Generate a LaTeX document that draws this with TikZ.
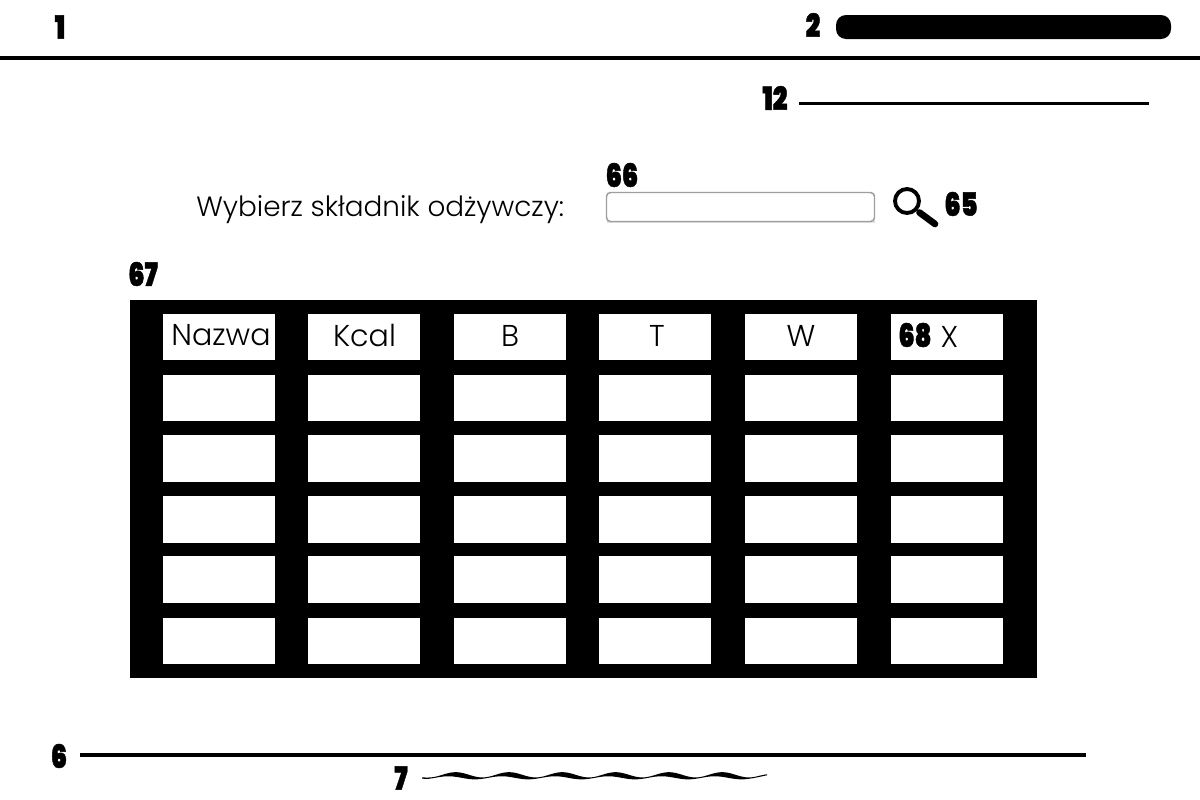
\documentclass[tikz,border=0pt]{standalone}
\usepackage{fontspec}
\setmainfont{Poppins}
\newfontfamily\lightfont{Poppins Light}
\newfontfamily\heavyfont[FakeBold=1.5]{Poppins Black}
\pgfmathdeclarefunction{wc}{1}{\pgfmathparse{776.3-1.9*sin(6.7542*(#1-439.7))}}
\pgfmathdeclarefunction{wt}{1}{\pgfmathparse{0.5+min(1,(#1-421)/12)*min(1,(767-#1)/22)*2.0*(0.5+0.5*cos(6.7542*(#1-461)))}}
\tikzset{
  numlabel/.style={font=\heavyfont\fontsize{24}{24}\selectfont, inner sep=0pt, text=black, xscale=0.8},
  celltext/.style={font=\lightfont\fontsize{22.6}{23}\selectfont, inner sep=0pt, text=black},
}
\begin{document}
\begin{tikzpicture}[x=0.75pt,y=-0.75pt]
\useasboundingbox (0,0) rectangle (1200,800);
\fill[white] (0,0) rectangle (1200,800);
% header
\fill[black] (0,56) rectangle (1200,60);
\fill[black, rounded corners=7.5pt] (836,15) rectangle (1171,39);
\fill[black] (799,101.8) rectangle (1149,105);
\node[numlabel] (n1) at (60,27) {1};
\node[numlabel] (n2) at (813,25) {2};
\node[numlabel] (n12) at (775,98) {12};
% search
\node[anchor=base west, inner sep=0pt, font=\lightfont\fontsize{20.9}{21}\selectfont] (prompt) at (196,216) {Wybierz składnik odżywczy:};
\node[numlabel] (n66) at (622,175) {66};
\fill[black!12] (607,194) rectangle (875,223);
\draw[draw=black!38, fill=white, line width=1.1pt, rounded corners=3pt] (606.5,192.5) rectangle (874.5,221.5);
\draw[black, line width=2.9pt] (907,201) circle (12);
\draw[black, line width=5pt, line cap=round] (919.5,212.5) -- (935,224);
\node[numlabel] (n65) at (961,204) {65};
% table
\node[numlabel] (n67) at (143,274) {67};
\fill[black] (130,300) rectangle (1037,678);
\foreach \x in {163,308,454,599,745,891}{
  \foreach \y/\h in {314/46,375/46,435/47,496/47,556/47,618/46}{
    \fill[white] (\x,\y) rectangle (\x+112,\y+\h);
  }
}
\node[celltext] (h1) at (221,335) {Nazwa};
\node[celltext] (h2) at (364.5,335) {Kcal};
\node[celltext] (h3) at (510,336) {B};
\node[celltext] (h4) at (657,336) {T};
\node[celltext] (h5) at (801,336) {W};
\node[celltext] (h6) at (949.5,337) {X};
\node[numlabel] (n68) at (915,335) {68};
% footer
\fill[black] (80,753) rectangle (1086,757);
\node[numlabel] (n6) at (59,756) {6};
\node[numlabel] (n7) at (401,778) {7};
\fill[black] plot[domain=422:767,samples=200] (\x,{wc(\x)-wt(\x)})
  -- plot[domain=-767:-422,samples=200] ({-\x},{wc(-\x)+wt(-\x)}) -- cycle;
\end{tikzpicture}
\end{document}
